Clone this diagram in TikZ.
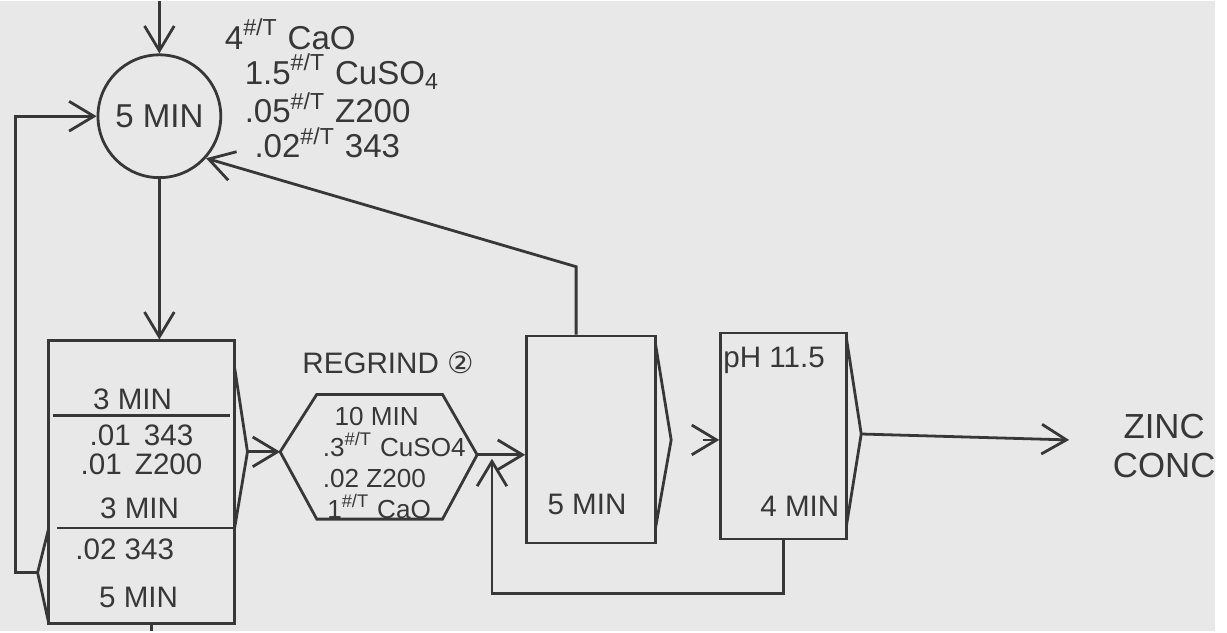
\documentclass[tikz,border=0pt]{standalone}
\usepackage{fontspec}
\setmainfont{Liberation Sans}
\newfontfamily\symfont{DejaVu Sans}
\usetikzlibrary{arrows.meta,positioning,calc}
\definecolor{paper}{RGB}{232,232,232}
\definecolor{ink}{RGB}{55,55,55}

\begin{document}
\begin{tikzpicture}[x=0.01cm, y=-0.01cm,
    % ---------- styles ----------
    pen/.style={draw=ink, line width=0.8pt},
    tank/.style={pen, circle, minimum size=1.24cm, inner sep=0pt,
      text=ink, font=\fontsize{9.5}{11}\selectfont},
    cell/.style={pen, rectangle, inner sep=0pt},
    lbl/.style={text=ink, inner sep=1pt, align=center,
      font=\fontsize{8.5}{8.5}\selectfont},
    reag/.style={text=ink, inner sep=1pt, anchor=west, align=left,
      font=\fontsize{9.5}{10}\selectfont},
    arr/.style={pen, -{Straight Barb[length=2.5mm,width=3mm]}}
]

% ====== Fondo ======
\fill[paper] (0,0) rectangle (1227,636);

% ====== Acondicionador ======
\node[tank] (cond) at (161,116) {5 MIN};
\coordinate (feed) at (161,0);
\node[reag] (dose) at (223,88) {4\textsuperscript{\#/T} CaO\\
  \hspace*{5.7pt}1.5\textsuperscript{\#/T} CuSO\textsubscript{4}\\
  \hspace*{5.7pt}.05\textsuperscript{\#/T} Z200\\
  \hspace*{8.5pt}.02\textsuperscript{\#/T} 343};

% ====== Rougher ======
\node[cell, minimum width=1.88cm, minimum height=2.85cm] (ros) at (143,485.5) {};
\draw[pen] (54,418) -- (232,418);
\draw[pen] (58,532) -- (237,532);
\coordinate (rostip) at (250,455);
\coordinate (rosbk) at (38,577);
\draw[pen] (237,370) -- (rostip) -- (237,532);
\draw[pen] (49,533) -- (rosbk) -- (49,627);
\node[lbl] (t1) at (134,402) {3 MIN};
\node[lbl] (t2) at (143,453) {.01\, 343\\.01\, Z200};
\node[lbl] (t3) at (141,512) {3 MIN};
\node[lbl] (t4) at (126,553) {.02 343};
\node[lbl] (t5) at (140,602) {5 MIN};
\coordinate (tail) at (153,636);

% ====== Remolienda ======
\coordinate (regrin) at (283,455);
\coordinate (regrout) at (482,458);
\draw[pen] (regrin) -- (320,397) -- (447,397) -- (regrout)
  -- (447,523) -- (320,523) -- cycle;
\node[lbl] (rgt) at (392,365) {REGRIND {\symfont ②}};
\node[lbl, align=left, anchor=west, font=\fontsize{7.5}{8.9}\selectfont]
  (regr) at (322,466) {\;\,10 MIN\\.3\textsuperscript{\#/T} CuSO4\\.02 Z200\\\,1\textsuperscript{\#/T} CaO};

% ====== Limpieza ======
\node[cell, minimum width=1.30cm, minimum height=2.09cm] (cl1) at (597,442.5) {};
\coordinate (cl1tip) at (678,443);
\draw[pen] (662,345) -- (cl1tip) -- (662,533);
\node[lbl] (c1t) at (593,508) {5 MIN};

\node[cell, minimum width=1.27cm, minimum height=2.08cm] (cl2) at (791.5,439) {};
\coordinate (cl2tip) at (870,437);
\draw[pen] (855,340) -- (cl2tip) -- (855,530);
\node[lbl] (c2a) at (782,363) {pH 11.5};
\node[lbl] (c2b) at (808,510) {4 MIN};

% ====== Producto ======
\node[text=ink, align=center, font=\fontsize{10}{11.3}\selectfont] (zinc) at (1176,449) {ZINC\\CONC};
\coordinate (prod) at (1080,443);

% ====== Flechas ======
\draw[arr] (feed) -- (cond.north);
\draw[arr] (cond.south) -- (cond.south |- ros.north);
\draw[arr] (rosbk) -- ++(-22,0) |- (cond.west);
\draw[arr] (rostip) -- (regrin);
\draw[arr] (regrout) -- (regrout -| cl1.west);
\draw[arr, shorten <=9pt] (cl1tip) -- (cl1tip -| cl2.west);
\draw[arr] (cl2tip) -- (prod);
\draw[pen] (tail |- ros.south) -- (tail);

% ====== Retornos ======
\coordinate (ret1) at (582,268);
\draw[arr] (ret1 |- cl1.north) -- (ret1) -- (cond.-42);
\coordinate (ret2) at (497,462);
\draw[arr] (cl2.south) -- ++(0,54) -| (ret2);

\end{tikzpicture}
\end{document}
